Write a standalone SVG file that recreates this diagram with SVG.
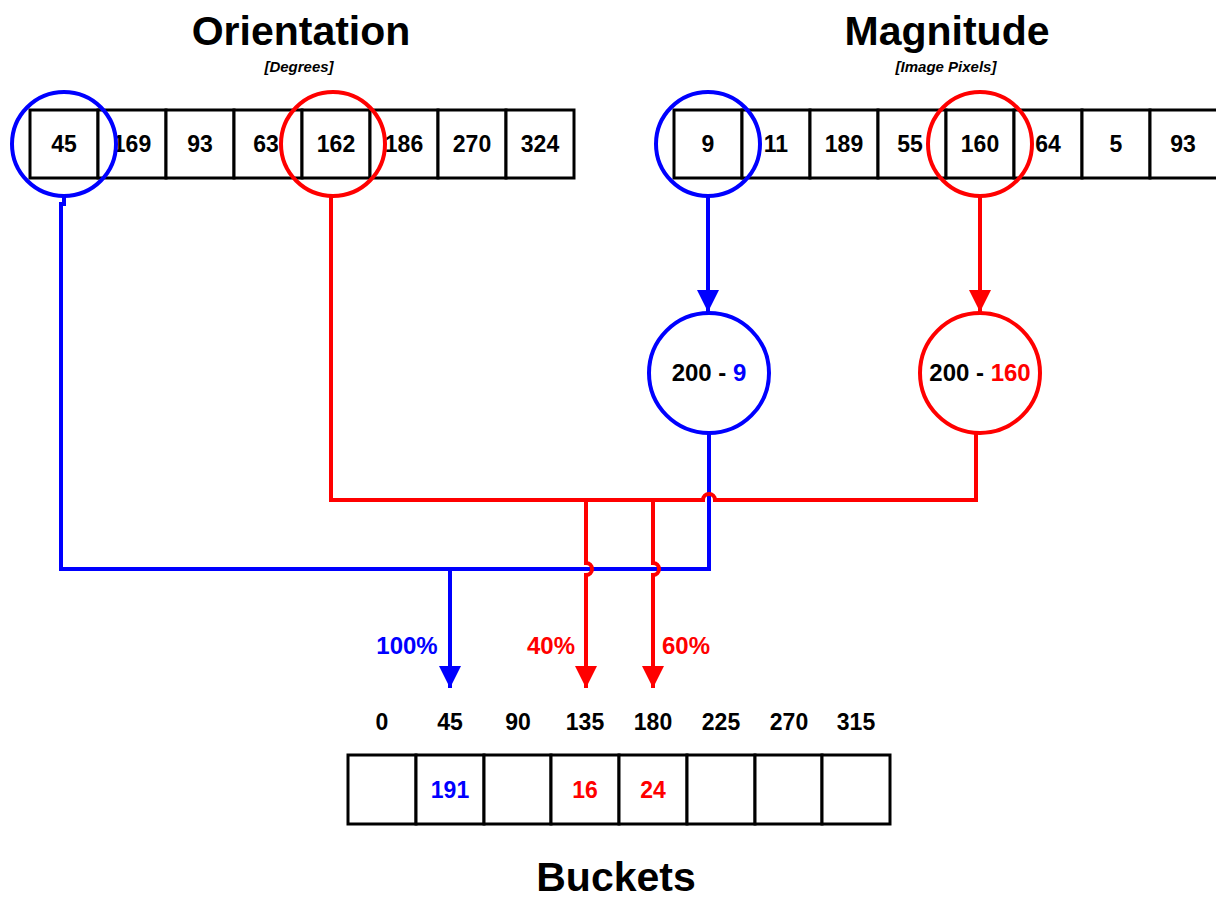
<svg xmlns="http://www.w3.org/2000/svg" width="1216" height="898" viewBox="0 0 1216 898">
<defs>
<style>
.cell{fill:#fff;stroke:#000;stroke-width:3}
.t{font-family:"Liberation Sans",Arial,sans-serif;font-weight:bold;font-size:23px;text-anchor:middle}
.big{font-size:24px}
.title{font-family:"Liberation Sans",Arial,sans-serif;font-weight:bold;font-size:41px;text-anchor:middle}
.sub{font-family:"Liberation Sans",Arial,sans-serif;font-weight:bold;font-style:italic;font-size:15px;text-anchor:middle}
.bl{stroke:#0000ff;fill:none;stroke-width:4}
.rd{stroke:#ff0000;fill:none;stroke-width:4}
.cb{fill:none;stroke:#0000ff;stroke-width:4}
.cr{fill:none;stroke:#ff0000;stroke-width:4}
</style>
<marker id="ab" markerUnits="userSpaceOnUse" markerWidth="22" markerHeight="22" viewBox="0 0 20 20" refX="20" refY="10" orient="auto"><path d="M0,0 L20,10 L0,20 Z" fill="#0000ff"/></marker>
<marker id="ar" markerUnits="userSpaceOnUse" markerWidth="22" markerHeight="22" viewBox="0 0 20 20" refX="20" refY="10" orient="auto"><path d="M0,0 L20,10 L0,20 Z" fill="#ff0000"/></marker>
</defs>
<rect width="1216" height="898" fill="#fff"/>

<g id="titles">
<text class="title" x="301" y="45">Orientation</text>
<text class="sub" x="299" y="72">[Degrees]</text>
<text class="title" x="947" y="45">Magnitude</text>
<text class="sub" x="946" y="72">[Image Pixels]</text>
<text class="title" x="616" y="891">Buckets</text>
</g>

<g id="orientation">
<rect class="cell" x="30" y="110" width="68" height="68"/>
<rect class="cell" x="98" y="110" width="68" height="68"/>
<rect class="cell" x="166" y="110" width="68" height="68"/>
<rect class="cell" x="234" y="110" width="68" height="68"/>
<rect class="cell" x="302" y="110" width="68" height="68"/>
<rect class="cell" x="370" y="110" width="68" height="68"/>
<rect class="cell" x="438" y="110" width="68" height="68"/>
<rect class="cell" x="506" y="110" width="68" height="68"/>
<text class="t" x="64" y="152">45</text>
<text class="t" x="132" y="152">169</text>
<text class="t" x="200" y="152">93</text>
<text class="t" x="266" y="152">63</text>
<text class="t" x="336" y="152">162</text>
<text class="t" x="404" y="152">186</text>
<text class="t" x="472" y="152">270</text>
<text class="t" x="540" y="152">324</text>
</g>

<g id="magnitude">
<rect class="cell" x="674" y="110" width="68" height="68"/>
<rect class="cell" x="742" y="110" width="68" height="68"/>
<rect class="cell" x="810" y="110" width="68" height="68"/>
<rect class="cell" x="878" y="110" width="68" height="68"/>
<rect class="cell" x="946" y="110" width="68" height="68"/>
<rect class="cell" x="1014" y="110" width="68" height="68"/>
<rect class="cell" x="1082" y="110" width="68" height="68"/>
<rect class="cell" x="1150" y="110" width="68" height="68"/>
<text class="t" x="708" y="152">9</text>
<text class="t" x="776" y="152">11</text>
<text class="t" x="844" y="152">189</text>
<text class="t" x="910" y="152">55</text>
<text class="t" x="980" y="152">160</text>
<text class="t" x="1048" y="152">64</text>
<text class="t" x="1116" y="152">5</text>
<text class="t" x="1183" y="152">93</text>
</g>

<g id="sel-45"><circle class="cb" cx="64" cy="144" r="52"/></g>
<g id="sel-162"><circle class="cr" cx="333" cy="144" r="52"/></g>
<g id="sel-9"><circle class="cb" cx="708" cy="144" r="52"/></g>
<g id="sel-160"><circle class="cr" cx="980" cy="144" r="52"/></g>

<g id="calc-9">
<circle class="cb" cx="709" cy="373" r="60"/>
<text class="t big" x="709" y="381">200 - <tspan fill="#0000ff">9</tspan></text>
</g>
<g id="calc-160">
<circle class="cr" cx="980" cy="373" r="60"/>
<text class="t big" x="980" y="381">200 - <tspan fill="#ff0000">160</tspan></text>
</g>

<g id="connectors">
<path class="bl" d="M708,196 V312" marker-end="url(#ab)"/>
<path class="rd" d="M980,196 V312" marker-end="url(#ar)"/>
<path class="bl" d="M709,433 V569 H61 V204 H64 V196"/>
<path class="bl" d="M450,569 V688" marker-end="url(#ab)"/>
<path class="rd" d="M331,196 V500 H703 A6,6 0 0 1 715,500 H976 V433"/>
<path class="rd" d="M586,500 V563 A6,6 0 0 1 586,575 V688" marker-end="url(#ar)"/>
<path class="rd" d="M653,500 V563 A6,6 0 0 1 653,575 V688" marker-end="url(#ar)"/>
</g>

<g id="labels">
<text class="t big" x="407" y="654" fill="#0000ff">100%</text>
<text class="t big" x="551" y="654" fill="#ff0000">40%</text>
<text class="t big" x="686" y="654" fill="#ff0000">60%</text>
</g>

<g id="bucket-labels">
<text class="t" x="382" y="730">0</text>
<text class="t" x="450" y="730">45</text>
<text class="t" x="518" y="730">90</text>
<text class="t" x="585" y="730">135</text>
<text class="t" x="653" y="730">180</text>
<text class="t" x="721" y="730">225</text>
<text class="t" x="789" y="730">270</text>
<text class="t" x="856" y="730">315</text>
</g>

<g id="buckets">
<rect class="cell" x="348" y="755" width="68" height="69"/>
<rect class="cell" x="416" y="755" width="68" height="69"/>
<rect class="cell" x="484" y="755" width="67" height="69"/>
<rect class="cell" x="551" y="755" width="68" height="69"/>
<rect class="cell" x="619" y="755" width="68" height="69"/>
<rect class="cell" x="687" y="755" width="68" height="69"/>
<rect class="cell" x="755" y="755" width="67" height="69"/>
<rect class="cell" x="822" y="755" width="68" height="69"/>
<text class="t" x="450" y="798" fill="#0000ff">191</text>
<text class="t" x="585" y="798" fill="#ff0000">16</text>
<text class="t" x="653" y="798" fill="#ff0000">24</text>
</g>
</svg>
